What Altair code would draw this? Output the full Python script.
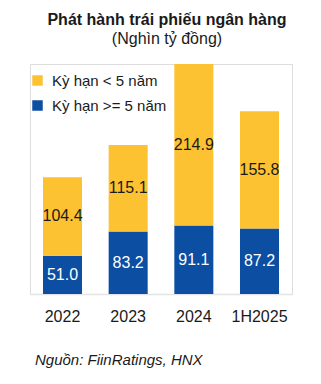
import altair as alt
import pandas as pd

years = ["2022", "2023", "2024", "1H2025"]
short_term = [104.4, 115.1, 214.9, 155.8]
long_term = [51.0, 83.2, 91.1, 87.2]
series = ["Kỳ hạn < 5 năm", "Kỳ hạn >= 5 năm"]
colors = ["#FDC232", "#0B4EA2"]
label_colors = ["#1a1a1a", "#ffffff"]

rows = []
for i, y in enumerate(years):
    rows.append({"year": y, "series": series[1], "value": long_term[i], "ord": 0, "lc": label_colors[1]})
    rows.append({"year": y, "series": series[0], "value": short_term[i], "ord": 1, "lc": label_colors[0]})
df = pd.DataFrame(rows)

FONT = "Liberation Sans"

x = alt.X("year:N", sort=years, title=None,
          scale=alt.Scale(paddingInner=0.406, paddingOuter=0.198),
          axis=alt.Axis(labelAngle=0, labelFontSize=16, labelColor="#1a1a1a", labelFont=FONT,
                        ticks=False, labelPadding=14, domainColor="#e4e4e4", domainWidth=1.5,
                        grid=False))

base = alt.Chart(df)

bars = base.mark_bar().encode(
    x=x,
    y=alt.Y("value:Q", stack="zero", scale=alt.Scale(domain=[0, 306], nice=False), axis=None),
    color=alt.Color("series:N", scale=alt.Scale(domain=series, range=colors),
                    legend=alt.Legend(title=None, orient="none", legendX=0, legendY=9,
                                      symbolType="square", symbolSize=110, symbolStrokeWidth=0,
                                      labelFontSize=15, labelFont=FONT, labelColor="#1a1a1a",
                                      rowPadding=9, labelOffset=7)),
    order=alt.Order("ord:Q"),
)

labels = base.transform_stack(
    stack="value", groupby=["year"], as_=["v0", "v1"], sort=[alt.SortField("ord")]
).transform_calculate(
    mid="(datum.v0 + datum.v1) / 2",
    txt="format(datum.value, '.1f')",
).mark_text(fontSize=16, font=FONT).encode(
    x=alt.X("year:N", sort=years),
    y=alt.Y("mid:Q"),
    text="txt:N",
    color=alt.Color("lc:N", scale=None),
)

tdf = pd.DataFrame({"t": ["Phát hành trái phiếu ngân hàng"]})
title = alt.Chart(tdf).mark_text(fontSize=16, fontWeight="bold", font=FONT, color="#1a1a1a",
                                 baseline="alphabetic").encode(
    text="t:N", x=alt.value(137), y=alt.value(-39))
sdf = pd.DataFrame({"t": ["(Nghìn tỷ đồng)"]})
subtitle = alt.Chart(sdf).mark_text(fontSize=16, font=FONT, color="#1a1a1a",
                                    baseline="alphabetic").encode(
    text="t:N", x=alt.value(137), y=alt.value(-20))
srcdf = pd.DataFrame({"t": ["Nguồn: FiinRatings, HNX"]})
source = alt.Chart(srcdf).mark_text(fontSize=15, font=FONT, fontStyle="italic", color="#1a1a1a",
                                    align="left", baseline="alphabetic").encode(
    text="t:N", x=alt.value(5), y=alt.value(301))

chart = alt.layer(bars, labels, title, subtitle, source).properties(
    width=262, height=230,
    padding={"left": 30, "top": 64, "right": 29, "bottom": 90},
    autosize=alt.AutoSizeParams(type="none"),
).configure_view(stroke=None).configure(background="white")

chart.save("out.html", embed_options={"renderer": "svg", "actions": False})
